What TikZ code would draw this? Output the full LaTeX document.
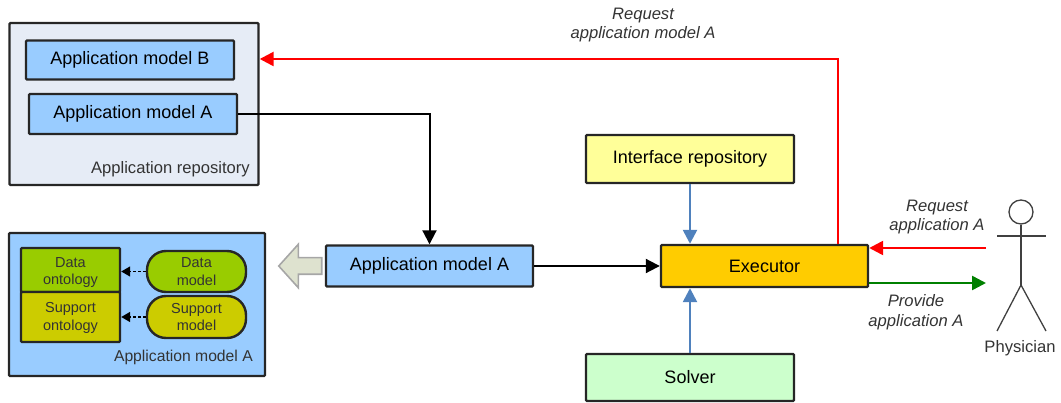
\documentclass[tikz,border=0pt]{standalone}
\usepackage{fontspec}
\setmainfont{Liberation Sans}
\usetikzlibrary{arrows.meta,shapes.arrows}
\definecolor{modelblue}{HTML}{99CCFF}
\definecolor{repofill}{HTML}{E6ECF6}
\definecolor{dataolive}{HTML}{99CC00}
\definecolor{supportolive}{HTML}{CCCC00}
\definecolor{execorange}{HTML}{FFCC00}
\definecolor{ifaceyellow}{HTML}{FFFF99}
\definecolor{solvergreen}{HTML}{CCFFCC}
\definecolor{linkblue}{HTML}{4F81BD}
\definecolor{hollowfill}{HTML}{DEE2CF}
\definecolor{framegray}{HTML}{262626}
\tikzset{
  box/.style={draw=framegray, line width=2.4pt, rounded corners=1pt, inner sep=0pt, align=center, font=\fontsize{18}{20}\selectfont},
  smallbox/.style={box, font=\fontsize{14.5}{17.5}\selectfont, text=black!80},
  pill/.style={smallbox, rounded corners=19pt},
  caption/.style={inner sep=0pt, align=center, text=black!80, font=\fontsize{16.6}{19.5}\selectfont},
  saying/.style={caption, font=\fontsize{16.6}{19.5}\selectfont\itshape},
  tipped/.style={-{Triangle[length=14pt,width=14pt]}, line width=2.5pt},
  dotted link/.style={densely dashed, line width=1.5pt, -{Triangle[length=9pt,width=10pt]}},
  limb/.style={draw=black!75, line width=1.3pt}
}
\begin{document}
\begin{tikzpicture}[x=1pt,y=-1pt]
\useasboundingbox (0,0) rectangle (1061,403);
%% repository in the top left corner
\node[box, fill=repofill, minimum width=249pt, minimum height=162pt] (repo) at (134,104) {};
\node[box, fill=modelblue, minimum width=208pt, minimum height=39pt] (modelB) at (130,60) {Application model B};
\node[box, fill=modelblue, minimum width=208pt, minimum height=40pt] (modelA) at (133,114) {Application model A};
\node[caption, anchor=east] (repolabel) at (250,169) {Application repository};
%% the model as it is opened up, bottom left
\node[box, fill=modelblue, minimum width=256pt, minimum height=143pt] (inner) at (137,304.5) {};
\node[smallbox, fill=dataolive, minimum width=99pt, minimum height=44pt] (dataonto) at (70.5,270) {\rule{0pt}{15pt}Data\\ontology};
\node[smallbox, fill=supportolive, minimum width=99pt, minimum height=50pt] (supponto) at (70.5,317) {\rule{0pt}{12.5pt}Support\\ontology};
\node[pill, fill=dataolive, minimum width=99pt, minimum height=41pt] (datamodel) at (196.5,271.5) {Data\\model};
\node[pill, fill=supportolive, minimum width=99pt, minimum height=42pt] (suppmodel) at (196.5,317) {Support\\model};
\node[caption, anchor=east, font=\fontsize{15.7}{18}\selectfont] (innerlabel) at (253,357) {Application model A};
\draw[dotted link] (datamodel) -- (dataonto.east |- datamodel);
\draw[dotted link] (suppmodel) -- (supponto.east |- suppmodel);
%% middle row
\node[single arrow, draw=black!35, line width=1.6pt, fill=hollowfill, shape border rotate=180, inner xsep=0pt, inner ysep=7.5pt, minimum height=43pt, minimum width=42pt, single arrow head extend=13.5pt, single arrow tip angle=96] (hollow) at (304,266) {};
\node[box, fill=modelblue, minimum width=207pt, minimum height=41pt] (opened) at (429.5,266) {Application model A};
\node[box, fill=execorange, minimum width=207pt, minimum height=42pt] (exec) at (764.5,266) {Executor};
\node[box, fill=ifaceyellow, minimum width=208pt, minimum height=48pt] (iface) at (690,159) {Interface repository};
\node[box, fill=solvergreen, minimum width=208pt, minimum height=47pt] (solver) at (690,377.5) {Solver};
%% black and blue links
\draw[tipped, black, line width=2pt] (modelA.east) -- (opened.north |- modelA.east) -- (opened.north);
\draw[tipped, black, line width=2pt] (opened.east) -- (exec.west);
\draw[tipped, linkblue] (iface.south) -- (iface.south |- exec.north);
\draw[tipped, linkblue] (solver.north) -- (solver.north |- exec.south);
%% red request going back to the repository
\coordinate (reqturn) at (838,59);
\draw[tipped, red] (exec.north -| reqturn) -- (reqturn) -- (repo.east |- reqturn);
\node[saying] (toplabel) at (643,25) {Request\\application model A};
%% physician on the right
\node[circle, limb, fill=white, minimum size=24pt, inner sep=0pt] (head) at (1021,212) {};
\coordinate (hip) at (1021,285);
\coordinate (armL) at (997,236);
\coordinate (armR) at (1046,236);
\coordinate (footL) at (997,331);
\coordinate (footR) at (1046,331);
\draw[limb] (head.south) -- (hip);
\draw[limb] (armL) -- (armR);
\draw[limb] (footL) -- (hip) -- (footR);
\node[caption] (physician) at (1020,348) {Physician};
%% messages between physician and executor
\coordinate (reqstart) at (986,248);
\coordinate (provend) at (986,283);
\draw[tipped, red] (reqstart) -- (exec.east |- reqstart);
\draw[tipped, green!50!black] (exec.east |- provend) -- (provend);
\node[saying] (reqlabel) at (937,217) {Request\\application A};
\node[saying] (provlabel) at (916,312) {Provide\\application A};
\end{tikzpicture}
\end{document}
